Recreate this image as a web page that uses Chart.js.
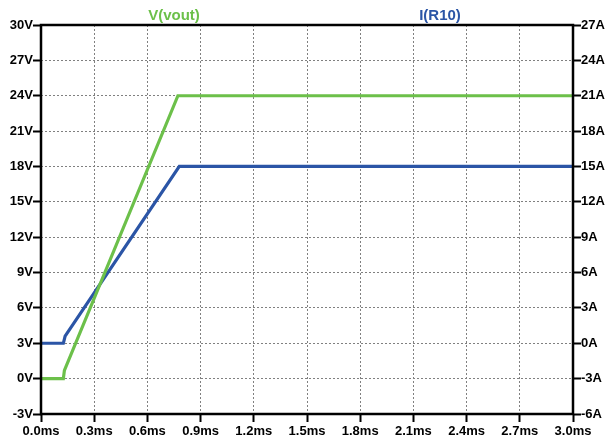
<!DOCTYPE html>
<html>
<head>
<meta charset="utf-8">
<script src="https://cdn.jsdelivr.net/npm/chart.js@4"></script>
<style>
  html, body { margin: 0; padding: 0; background: #fff; }
  #wrap { width: 610px; height: 440px; }
</style>
</head>
<body>
<div id="wrap"><canvas id="chart" width="610" height="440"></canvas></div>
<script>
// --- Data ---
const timeTicks = [0.0, 0.3, 0.6, 0.9, 1.2, 1.5, 1.8, 2.1, 2.4, 2.7, 3.0];
const voltTicks = [-3, 0, 3, 6, 9, 12, 15, 18, 21, 24, 27, 30];
const ampTicks = [-6, -3, 0, 3, 6, 9, 12, 15, 18, 21, 24, 27];

// V(vout), volts
const voutTime = [0.0, 0.126, 0.132, 0.772, 3.0];
const voutVals = [0, 0, 0.7, 24, 24];

// I(R10), amps
const iTime = [0.0, 0.126, 0.136, 0.78, 3.0];
const iVals = [0, 0, 0.6, 15, 15];

const GREEN = '#6cc04a';
const BLUE = '#2b55a6';

const toXY = (xs, ys) => xs.map((x, i) => ({ x: x, y: ys[i] }));

const fontTick = { family: "'Liberation Sans', Arial, sans-serif", size: 13, weight: 'bold' };

// frame + trace names
const framePlugin = {
    id: 'frame',
    afterDraw(chart) {
        const { ctx, chartArea: a } = chart;
        ctx.save();
        ctx.strokeStyle = '#000';
        ctx.lineWidth = 2.5;
        ctx.strokeRect(a.left, a.top, a.right - a.left, a.bottom - a.top);

        ctx.font = "bold 15px 'Liberation Sans', Arial, sans-serif";
        ctx.textAlign = 'center';
        ctx.textBaseline = 'bottom';
        ctx.fillStyle = GREEN;
        ctx.fillText('V(vout)', a.left + (a.right - a.left) * 0.25, a.top - 2);
        ctx.fillStyle = BLUE;
        ctx.fillText('I(R10)', a.left + (a.right - a.left) * 0.75, a.top - 2);
        ctx.restore();
    }
};

const gridOpts = {
    color: '#808080',
    lineWidth: 1,
    tickColor: '#000',
    tickWidth: 2,
    tickLength: 8
};

new Chart(document.getElementById('chart'), {
    type: 'line',
    data: {
        datasets: [
            {
                label: 'V(vout)',
                data: toXY(voutTime, voutVals),
                borderColor: GREEN,
                borderWidth: 3.2,
                pointRadius: 0,
                tension: 0,
                yAxisID: 'y'
            },
            {
                label: 'I(R10)',
                data: toXY(iTime, iVals),
                borderColor: BLUE,
                borderWidth: 3.2,
                pointRadius: 0,
                tension: 0,
                yAxisID: 'y2'
            }
        ]
    },
    options: {
        responsive: false,
        animation: false,
        layout: { padding: { top: 25, left: 0, right: 0, bottom: 0 } },
        plugins: { legend: { display: false }, tooltip: { enabled: false } },
        scales: {
            x: {
                type: 'linear',
                min: 0, max: 3,
                afterBuildTicks: s => { s.ticks = timeTicks.map(v => ({ value: v })); },
                afterFit: s => { s.height = 26; },
                grid: gridOpts,
                border: { display: false, dash: [2, 2] },
                ticks: {
                    color: '#000', font: fontTick, padding: 2, maxRotation: 0,
                    callback: v => v.toFixed(1) + 'ms'
                }
            },
            y: {
                position: 'left',
                min: -3, max: 30,
                afterBuildTicks: s => { s.ticks = voltTicks.map(v => ({ value: v })); },
                afterFit: s => { s.width = 41; },
                grid: gridOpts,
                border: { display: false, dash: [2, 2] },
                ticks: { color: '#000', font: fontTick, padding: 0, callback: v => v + 'V' }
            },
            y2: {
                position: 'right',
                min: -6, max: 27,
                afterBuildTicks: s => { s.ticks = ampTicks.map(v => ({ value: v })); },
                afterFit: s => { s.width = 37; },
                grid: { ...gridOpts, drawOnChartArea: false },
                border: { display: false },
                ticks: { color: '#000', font: fontTick, padding: 0, callback: v => v + 'A' }
            }
        }
    },
    plugins: [framePlugin]
});
</script>
</body>
</html>
